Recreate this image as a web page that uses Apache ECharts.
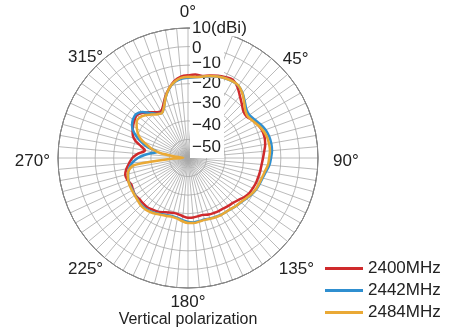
<!DOCTYPE html>
<html>
<head>
<meta charset="utf-8">
<script src="https://cdn.jsdelivr.net/npm/echarts@6/dist/echarts.min.js"></script>
<style>
  html, body { margin: 0; padding: 0; background: #fff; }
  #chart { width: 450px; height: 331px; }
</style>
</head>
<body>
<div id="chart"></div>
<script>
// Radiation pattern, vertical polarization (gain in dBi vs. azimuth in degrees)
const seriesNames = ['2400MHz', '2442MHz', '2484MHz'];
const seriesColors = ['#cf2a2c', '#2f8fd0', '#eaa935'];

const angles2400 = [0,5,10,15,20,25,30,35,40,45,50,55,60,65,70,75,80,85,90,95,100,105,110,115,120,125,130,135,140,145,150,155,160,165,170,175,180,185,190,195,200,205,210,215,220,225,230,235,240,245,250,255,260,265,270,275,280,284,288,292,296,300,305,310,315,320,325,330,335,340,345,350,355,360];
const gain2400 = [-15.5,-14.8,-15.2,-14.0,-12.8,-12.0,-11.5,-13.5,-16.5,-19.0,-21.0,-21.3,-19.5,-18.2,-17.4,-17.3,-17.8,-18.8,-19.6,-20.2,-20.5,-20.8,-21.0,-21.5,-22.0,-23.2,-24.8,-25.8,-26.3,-26.8,-27.0,-27.3,-27.6,-28.3,-28.2,-27.8,-27.8,-28.5,-29.3,-29.4,-28.8,-27.8,-26.8,-26.2,-25.6,-25.6,-25.7,-25.2,-25.8,-26.3,-25.3,-25.0,-26.3,-28.2,-30.0,-33.0,-36.5,-34.0,-30.3,-28.0,-26.8,-25.8,-24.8,-24.1,-25.5,-27.8,-30.0,-31.0,-28.5,-24.5,-21.0,-17.8,-16.0,-15.5];

const angles2442 = [0,5,10,15,20,25,30,35,40,45,50,55,60,65,70,75,80,85,90,95,100,105,110,115,120,125,130,135,140,145,150,155,160,165,170,175,180,185,190,195,200,205,210,215,220,225,230,235,240,245,250,255,260,265,270,274,278,281,285,290,295,300,305,310,315,320,325,330,335,340,345,350,355,360];
const gain2442 = [-16.8,-16.4,-15.6,-14.4,-13.3,-12.6,-12.3,-12.6,-14.3,-16.8,-19.0,-19.6,-18.6,-17.0,-15.6,-14.8,-14.5,-14.6,-15.3,-16.0,-17.4,-18.4,-19.0,-19.6,-20.6,-21.8,-22.8,-23.4,-24.1,-24.5,-24.6,-25.0,-25.4,-25.7,-25.5,-25.2,-25.6,-26.4,-27.3,-27.6,-27.2,-26.6,-25.6,-24.9,-24.4,-24.3,-24.8,-25.2,-25.5,-25.5,-25.8,-26.6,-27.8,-29.8,-33.0,-36.5,-40.5,-43.0,-37.5,-32.5,-28.0,-25.2,-23.8,-23.4,-25.0,-28.3,-31.0,-32.0,-29.5,-25.0,-21.2,-18.5,-17.2,-16.8];

const angles2484 = [0,5,10,15,20,25,30,35,40,45,50,55,60,65,70,75,80,85,90,95,100,105,110,115,120,125,130,135,140,145,150,155,160,165,170,175,180,185,190,195,200,205,210,215,220,225,230,235,240,245,250,255,258,262,264,268,272,276,280,284,288,292,296,300,305,310,315,320,325,330,335,340,345,350,355,360];
const gain2484 = [-16.3,-16.2,-15.5,-14.3,-13.3,-12.6,-12.2,-12.5,-14.5,-17.3,-19.8,-20.8,-19.8,-18.3,-16.9,-16.0,-15.7,-15.7,-16.3,-16.8,-18.0,-18.8,-19.3,-19.8,-20.8,-22.0,-23.0,-23.5,-24.2,-24.5,-24.5,-24.8,-25.2,-25.5,-25.2,-24.8,-25.0,-25.8,-26.8,-27.2,-26.8,-26.2,-25.3,-24.5,-24.0,-24.0,-24.6,-25.0,-25.2,-25.3,-25.7,-26.5,-27.3,-30.0,-39.0,-52.0,-57.5,-54.0,-44.7,-40.0,-36.5,-32.5,-30.0,-28.2,-26.2,-26.0,-27.5,-29.5,-31.2,-32.0,-29.5,-25.0,-21.0,-18.3,-16.7,-16.3];

const angleTicks = [0, 45, 90, 135, 180, 225, 270, 315];
const gainTicks = [10, 0, -10, -20, -30, -40, -50];
const gainUnit = '(dBi)';
const chartTitle = 'Vertical polarization';

const angleSets = [angles2400, angles2442, angles2484];
const gainSets = [gain2400, gain2442, gain2484];

const FONT = "'Liberation Sans', Arial, Helvetica, sans-serif";
const chart = echarts.init(document.getElementById('chart'), null, { renderer: 'canvas' });

// Angle labels: anchor sits just inside the rim, padding pushes each label out to its spot.
const angleLabelPad = {
  0: [0, 0, 17, 0],
  45: [0, 0, 5, 10],
  90: [7, 0, 0, 25],
  135: [18, 0, 0, 6],
  180: [16, 0, 0, 0],
  225: [18, 0, 0, 0],
  270: [7, 18, 0, 0],
  315: [0, 0, 7, 0]
};
const angleRich = {};
angleTicks.forEach(a => {
  angleRich['a' + a] = { fontFamily: FONT, fontSize: 17, color: '#222', padding: angleLabelPad[a] };
});
function fmtAngle(v) {
  return angleTicks.includes(v) ? '{a' + v + '|' + v + '°}' : '';
}

// Gain labels sit right of the 0° spoke on a white strip, each with its own box padding.
const gainLabelPad = {
  10: [0, 2, 0, 2],
  0: [3, 2, 0, 2],
  '-10': [2, 2, 6, 2],
  '-20': [2, 2, 2, 2],
  '-30': [4, 2, 2, 2],
  '-40': [10, 2, 2, 2],
  '-50': [18, 2, 2, 2]
};
const gainRich = {};
gainTicks.forEach((g, i) => {
  gainRich['g' + i] = {
    fontFamily: FONT, fontSize: 17, color: '#222',
    backgroundColor: '#fff',
    width: g === 10 ? 56 : 30,
    padding: gainLabelPad[g]
  };
});
function fmtGain(v) {
  const i = gainTicks.indexOf(v);
  if (i < 0) return '';
  const s = v < 0 ? '\u2212' + Math.abs(v) : String(v);
  return '{g' + i + '|' + (v === 10 ? s + gainUnit : s) + '}';
}

chart.setOption({
  backgroundColor: '#fff',
  animation: false,
  title: {
    text: chartTitle,
    left: 188,
    textAlign: 'center',
    top: 312,
    padding: 0,
    textStyle: { fontFamily: FONT, fontSize: 16, fontWeight: 'normal', color: '#222' }
  },
  legend: {
    orient: 'vertical',
    left: 325,
    top: 260,
    padding: 0,
    itemGap: 5,
    itemWidth: 38,
    itemHeight: 3,
    icon: 'rect',
    data: seriesNames,
    textStyle: { fontFamily: FONT, fontSize: 17, color: '#222' }
  },
  polar: { center: [188, 158], radius: 130 },
  angleAxis: {
    type: 'value',
    min: 0,
    max: 360,
    interval: 5,
    startAngle: 90,
    clockwise: true,
    axisLine: { show: true, lineStyle: { color: '#222', width: 1 } },
    axisTick: { show: false },
    axisLabel: {
      margin: -10,
      formatter: fmtAngle,
      rich: angleRich
    },
    splitLine: { show: true, lineStyle: { color: '#a8a8a8', width: 0.8 } }
  },
  radiusAxis: {
    type: 'value',
    min: -60,
    max: 10,
    interval: 10,
    axisLine: { show: false },
    axisTick: { show: false },
    axisLabel: {
      margin: -2,
      align: 'left',
      verticalAlign: 'middle',
      showMaxLabel: true,
      showMinLabel: true,
      hideOverlap: false,
      formatter: fmtGain,
      rich: gainRich
    },
    splitLine: { show: true, lineStyle: { color: '#a8a8a8', width: 0.8 } },
    z: 5
  },
  series: seriesNames.map((name, i) => ({
    name,
    type: 'line',
    coordinateSystem: 'polar',
    showSymbol: false,
    smooth: 0.3,
    lineStyle: { color: seriesColors[i], width: 2.5 },
    itemStyle: { color: seriesColors[i] },
    data: angleSets[i].map((a, k) => [gainSets[i][k], a]),
    z: 10 + i
  }))
});
</script>
</body>
</html>
